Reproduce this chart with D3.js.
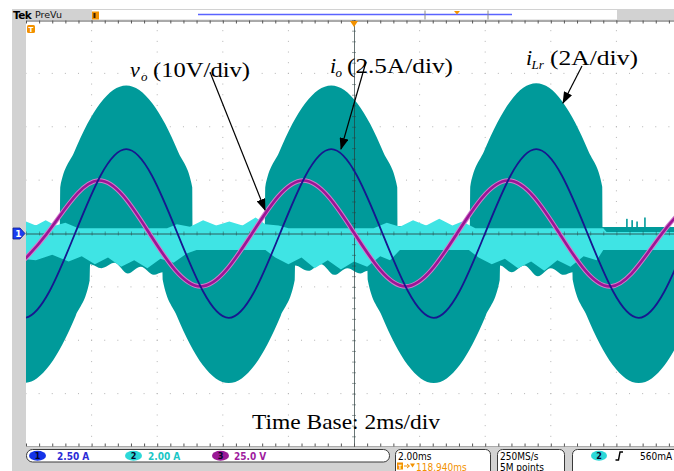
<!DOCTYPE html>
<html>
<head>
<meta charset="utf-8">
<script src="https://cdn.jsdelivr.net/npm/d3@7/dist/d3.min.js"></script>
<style>
  html, body { margin: 0; padding: 0; background: #fff; }
  svg { display: block; }
</style>
</head>
<body>
<svg id="scope" width="674" height="471"></svg>
<script>
// ---- Channel 1: output current i_o (A), 2.5 A/div ----
const ioTime = [-1.631, -0.069, 1.494, 3.056, 4.619, 6.181, 7.744, 9.306, 10.869, 12.431, 13.994, 15.556, 17.119, 18.681, 20.244];
const ioAmps = [0, -3.95, 0, 3.95, 0, -3.95, 0, 3.95, 0, -3.95, 0, 3.95, 0, -3.95, 0];

// ---- Channel 3: output voltage v_o (V), 25 V/div ----
const voTime  = [-0.922, 0.640, 2.203, 3.765, 5.328, 6.890, 8.453, 10.015, 11.578, 13.140, 14.703, 16.265, 17.828, 19.390, 20.953];
const voVolts = [-24.8, 0, 24.8, 0, -24.8, 0, 24.8, 0, -24.8, 0, 24.8, 0, -24.8, 0, 24.8];

// ---- Channel 2: resonant current i_Lr (A), 2 A/div — envelope of the switching ripple ----
const lrUpperTime = [-0.5, 0.5, 1.034,
  1.044, 1.471, 1.867, 2.263, 2.660, 3.056, 3.452, 3.849, 4.245, 4.641, 5.068,
  5.078, 6.2, 7.284,
  7.294, 7.721, 8.117, 8.513, 8.910, 9.306, 9.702, 10.099, 10.495, 10.891, 11.318,
  11.328, 12.4, 13.534,
  13.544, 13.971, 14.367, 14.763, 15.160, 15.556, 15.952, 16.349, 16.745, 17.141, 17.568,
  17.578, 20.5];
const lrUpperAmps = [0.27, 0.3, 0.27,
  1.73, 3.05, 4.10, 4.88, 5.38, 5.55, 5.38, 4.88, 4.10, 3.05, 1.73,
  0.27, 0.3, 0.27,
  1.73, 3.05, 4.10, 4.88, 5.38, 5.55, 5.38, 4.88, 4.10, 3.05, 1.73,
  0.27, 0.3, 0.27,
  1.75, 3.10, 4.15, 4.95, 5.46, 5.63, 5.46, 4.95, 4.15, 3.10, 1.75,
  0.24, 0.24];
const lrLowerTime = [-2.081, -1.654, -1.258, -0.862, -0.465, -0.069, 0.327, 0.724, 1.120, 1.516, 1.943,
  1.953, 2.3, 2.7, 3.1, 3.5, 3.9, 4.159,
  4.169, 4.596, 4.992, 5.388, 5.785, 6.181, 6.577, 6.974, 7.370, 7.766, 8.193,
  8.203, 8.6, 9.0, 9.4, 9.8, 10.2, 10.409,
  10.419, 10.846, 11.242, 11.638, 12.035, 12.431, 12.827, 13.224, 13.620, 14.016, 14.443,
  14.453, 14.8, 15.2, 15.6, 16.0, 16.4, 16.659,
  16.669, 17.096, 17.492, 17.888, 18.285, 18.681, 19.077, 19.474, 19.870, 20.266, 20.693];
const lrLowerAmps = [-1.74, -3.08, -4.13, -4.93, -5.43, -5.6, -5.43, -4.93, -4.13, -3.08, -1.74,
  -1.15, -1.3, -1.1, -1.5, -1.25, -1.55, -1.45,
  -1.74, -3.08, -4.13, -4.93, -5.43, -5.6, -5.43, -4.93, -4.13, -3.08, -1.74,
  -1.2, -1.4, -1.15, -1.55, -1.3, -1.5, -1.4,
  -1.74, -3.08, -4.13, -4.93, -5.43, -5.6, -5.43, -4.93, -4.13, -3.08, -1.74,
  -1.2, -1.45, -1.2, -1.6, -1.3, -1.55, -1.45,
  -1.74, -3.08, -4.13, -4.93, -5.43, -5.6, -5.43, -4.93, -4.13, -3.08, -1.74];

// low-intensity (light) part of the channel 2 trace around its baseline
const lrLightUpperTime = [-0.5, 0.0, 0.3, 0.6, 0.9, 1.2, 1.6, 4.3, 4.6, 5.0, 5.4, 5.8, 6.2, 6.6, 7.0, 7.3, 7.7, 8.0,
  10.6, 11.0, 11.4, 11.8, 12.2, 12.6, 13.0, 13.3, 13.7, 17.6, 17.7, 20.5];
const lrLightUpperAmps = [0.3, 0.45, 0.3, 0.5, 0.3, 0.4, 0.2, 0.2, 0.35, 0.25, 0.5, 0.3, 0.45, 0.3, 0.6, 0.35, 0.3, 0.2,
  0.2, 0.4, 0.25, 0.5, 0.3, 0.55, 0.3, 0.45, 0.2, 0.2, 0.06, 0.06];
const lrLightLowerTime = [-0.5, 0.3, 0.8, 1.3, 1.7, 2.1, 2.5, 2.9, 3.3, 3.7, 4.1, 4.5, 4.9, 5.2, 7.3, 7.6, 8.0, 8.4, 8.8,
  9.2, 9.6, 10.0, 10.4, 10.8, 11.1, 11.4, 13.5, 13.8, 14.2, 14.6, 15.0, 15.4, 15.8, 16.2, 16.6, 17.0, 17.4, 17.6, 20.5];
const lrLightLowerAmps = [-0.9, -1.0, -0.8, -1.05, -0.85, -1.15, -0.9, -1.25, -1.0, -1.3, -0.95, -1.1, -0.75, -0.62,
  -0.62, -0.9, -1.15, -0.9, -1.3, -1.0, -1.35, -1.05, -1.25, -0.85, -1.0, -0.62, -0.62, -0.9, -1.15, -0.95, -1.3,
  -1.05, -1.4, -1.0, -1.25, -0.85, -1.0, -0.62, -0.62];

// isolated glitches on channel 2 near the right edge
const glitchTime = [18.32, 18.48, 18.63, 18.87];
const glitchAmps = [0.55, 0.5, 0.45, 0.6];

// ---- readouts ----
const channelReadouts = ["2.50 A", "2.00 A", "25.0 V"];
const timeReadout = "2.00ms";
const triggerReadout = "118.940ms";
const sampleReadout = ["250MS/s", "5M points"];
const triggerLevel = "560mA";

// ---- layout ----
const svg = d3.select("#scope");
const W = 674, H = 471;
const P = { left: 26, right: 682, top: 20, bottom: 447 };

const x  = d3.scaleLinear().domain([0, 20]).range([P.left, P.right]);      // 2 ms/div, 10 div
const yD = d3.scaleLinear().domain([-4, 4]).range([P.bottom, P.top]);      // divisions
const y1 = d3.scaleLinear().domain([-10, 10]).range([P.bottom, P.top]);    // 2.5 A/div
const y2 = d3.scaleLinear().domain([-8, 8]).range([P.bottom, P.top]);      // 2 A/div
const y3 = d3.scaleLinear().domain([-100, 100]).range([P.bottom, P.top]);  // 25 V/div

const COL = {
  frame: "#d2d2d2", teal: "#009a9a", light: "#3fe4e4", ch1: "#17178f", ch3: "#9c1596",
  ch3halo: "#d07ccc", dot: "#b4b4b4", axis: "#555", orange: "#f29100"
};

svg.append("rect").attr("width", W).attr("height", H).attr("fill", "#fff");
svg.append("rect").attr("x", 12).attr("y", 9).attr("width", W - 12).attr("height", H - 9).attr("fill", COL.frame);
svg.append("rect").attr("x", P.left).attr("y", P.top).attr("width", P.right - P.left).attr("height", P.bottom - P.top).attr("fill", "#fff");

const defs = svg.append("defs");
defs.append("clipPath").attr("id", "plotClip").append("rect")
  .attr("x", P.left).attr("y", P.top).attr("width", P.right - P.left).attr("height", P.bottom - P.top);
defs.append("marker").attr("id", "arrowHead").attr("markerUnits", "userSpaceOnUse")
  .attr("markerWidth", 12).attr("markerHeight", 9).attr("refX", 11).attr("refY", 4.5).attr("orient", "auto")
  .append("path").attr("d", "M0,0 L12,4.5 L0,9 Z").attr("fill", "#000");

const plot = svg.append("g").attr("clip-path", "url(#plotClip)");

// ---- graticule: dotted division lines ----
const grid = plot.append("g");
const majorT = d3.range(2, 20, 2).filter(t => t !== 10);
const majorD = d3.range(-3, 4, 1).filter(d => d !== 0);
const minorDsteps = d3.range(-4, 4.001, 0.2);
const minorTsteps = d3.range(0, 20.001, 0.4);
majorT.forEach(t => {
  grid.selectAll(null).data(minorDsteps).join("rect")
    .attr("x", x(t) - 0.5).attr("y", d => yD(d) - 0.5).attr("width", 1).attr("height", 1).attr("fill", COL.dot);
});
majorD.forEach(dv => {
  grid.selectAll(null).data(minorTsteps).join("rect")
    .attr("x", t => x(t) - 0.5).attr("y", yD(dv) - 0.5).attr("width", 1).attr("height", 1).attr("fill", COL.dot);
});

// ---- channel 2 (i_Lr): dense envelope, then low-intensity band ----
const upperLr = d3.zip(lrUpperTime, lrUpperAmps);
const lowerLr = d3.zip(lrLowerTime, lrLowerAmps);
const areaUp = d3.area().x(d => x(d[0])).y0(y2(-0.15)).y1(d => y2(d[1])).curve(d3.curveMonotoneX);
const areaDn = d3.area().x(d => x(d[0])).y0(d => y2(d[1])).y1(y2(0.15)).curve(d3.curveMonotoneX);
plot.append("path").attr("d", areaUp(upperLr)).attr("fill", COL.teal);
plot.append("path").attr("d", areaDn(lowerLr)).attr("fill", COL.teal);

plot.selectAll(null).data(d3.zip(glitchTime, glitchAmps)).join("rect")
  .attr("x", d => x(d[0]) - 0.8).attr("width", 1.6)
  .attr("y", d => y2(d[1])).attr("height", d => y2(0.2) - y2(d[1]))
  .attr("fill", COL.teal);

const lightUp = d3.zip(lrLightUpperTime, lrLightUpperAmps);
const lightDn = d3.zip(lrLightLowerTime, lrLightLowerAmps);
const lArea = d3.area().x(d => x(d[0])).y0(y2(-0.2)).y1(d => y2(d[1])).curve(d3.curveLinear);
const lAreaDn = d3.area().x(d => x(d[0])).y0(d => y2(d[1])).y1(y2(0.0)).curve(d3.curveLinear);
plot.append("path").attr("d", lArea(lightUp)).attr("fill", COL.light);
plot.append("path").attr("d", lAreaDn(lightDn)).attr("fill", COL.light);

// ---- centre cross with minor ticks ----
const cross = plot.append("g").attr("class", "cross");
cross.append("g").attr("transform", `translate(0,${yD(0)})`)
  .call(d3.axisBottom(x).tickValues(minorTsteps).tickSize(2).tickSizeOuter(0).tickFormat(""));
cross.append("g").attr("transform", `translate(0,${yD(0)})`)
  .call(d3.axisTop(x).tickValues(minorTsteps).tickSize(2).tickSizeOuter(0).tickFormat(""));
cross.append("g").attr("transform", `translate(${x(10)},0)`)
  .call(d3.axisLeft(yD).tickValues(minorDsteps).tickSize(2).tickSizeOuter(0).tickFormat(""));
cross.append("g").attr("transform", `translate(${x(10)},0)`)
  .call(d3.axisRight(yD).tickValues(minorDsteps).tickSize(2).tickSizeOuter(0).tickFormat(""));
cross.selectAll("path, line").attr("stroke", "rgba(40,60,60,0.45)").attr("stroke-width", 1);

// ---- channel 3 (v_o) and channel 1 (i_o) traces ----
const line = (ys) => d3.line().x(d => x(d[0])).y(d => ys(d[1])).curve(d3.curveNatural);
const vo = d3.zip(voTime, voVolts);
plot.append("path").attr("d", line(y3)(vo)).attr("fill", "none").attr("stroke", COL.ch3halo).attr("stroke-width", 4.6);
plot.append("path").attr("d", line(y3)(vo)).attr("fill", "none").attr("stroke", COL.ch3).attr("stroke-width", 2.6);
const io = d3.zip(ioTime, ioAmps);
plot.append("path").attr("d", line(y1)(io)).attr("fill", "none").attr("stroke", COL.ch1).attr("stroke-width", 1.8);

// ---- frame edges with minor ticks ----
const edge = svg.append("g").attr("clip-path", "url(#plotClip)");
edge.append("g").attr("transform", `translate(0,${P.top + 0.5})`)
  .call(d3.axisBottom(x).tickValues(minorTsteps).tickSize(3).tickSizeOuter(0).tickFormat(""));
edge.append("g").attr("transform", `translate(0,${P.bottom - 0.5})`)
  .call(d3.axisTop(x).tickValues(minorTsteps).tickSize(3).tickSizeOuter(0).tickFormat(""));
edge.selectAll("path, line").attr("stroke", COL.axis).attr("stroke-width", 1);

// trigger position marker on the top edge
svg.append("path").attr("d", `M${x(10) - 4},${P.top + 1} L${x(10) + 4},${P.top + 1} L${x(10)},${P.top + 7} Z`).attr("fill", COL.orange);
// trigger time marker
svg.append("rect").attr("x", 27).attr("y", 25).attr("width", 8).attr("height", 8).attr("rx", 1.5).attr("fill", COL.orange);
svg.append("text").attr("x", 31).attr("y", 32).attr("text-anchor", "middle")
  .attr("font-family", "DejaVu Sans").attr("font-size", 7).attr("font-weight", "bold").attr("fill", "#fff").text("T");

// channel 1 ground marker
svg.append("path").attr("d", `M13,${yD(0) - 5.5} L20,${yD(0) - 5.5} L25,${yD(0)} L20,${yD(0) + 5.5} L13,${yD(0) + 5.5} Z`)
  .attr("fill", "#1b3cf2").attr("stroke", "#0d1c8a").attr("stroke-width", 0.8);
svg.append("text").attr("x", 18.5).attr("y", yD(0) + 3.5).attr("text-anchor", "middle")
  .attr("font-family", "DejaVu Sans").attr("font-size", 9).attr("font-weight", "bold").attr("fill", "#fff").text("1");

// ---- top bar ----
svg.append("rect").attr("x", 92).attr("y", 10).attr("width", 525).attr("height", 9.5).attr("fill", "#fff");
svg.append("text").attr("x", 13).attr("y", 18.5).attr("font-family", "DejaVu Sans").attr("font-weight", "bold")
  .attr("font-size", 10.5).attr("letter-spacing", -0.6).attr("fill", "#000").text("Tek");
svg.append("text").attr("x", 35).attr("y", 18).attr("font-family", "DejaVu Sans").attr("font-size", 9.5)
  .attr("fill", "#111").text("PreVu");
svg.append("rect").attr("x", 92).attr("y", 11.5).attr("width", 7).attr("height", 8).attr("fill", COL.orange);
svg.append("rect").attr("x", 93.5).attr("y", 13).attr("width", 2).attr("height", 5).attr("fill", "#3a2000");
svg.append("line").attr("x1", 198).attr("x2", 512).attr("y1", 14.5).attr("y2", 14.5).attr("stroke", "#5a63ff").attr("stroke-width", 1.4);
[425, 488].forEach(bx => svg.append("line").attr("x1", bx).attr("x2", bx).attr("y1", 10.5).attr("y2", 19.5)
  .attr("stroke", "#8a8a8a").attr("stroke-width", 1));
svg.append("path").attr("d", "M454,11 L460,11 L457,14.5 Z").attr("fill", COL.orange);

// ---- annotations ----
const serif = "'Liberation Serif', 'Times New Roman', serif";
const ann = svg.append("g").attr("font-family", serif).attr("fill", "#000");
function label(xv, base, main, sub, rest, restX, restLen) {
  ann.append("text").attr("x", xv).attr("y", base).attr("font-size", 22).attr("font-style", "italic").text(main);
  ann.append("text").attr("x", xv + (main === "v" ? 11 : 5.5)).attr("y", base + 4).attr("font-size", 13).attr("font-style", "italic").text(sub);
  ann.append("text").attr("x", restX).attr("y", base).attr("font-size", 21.5)
    .attr("textLength", restLen).attr("lengthAdjust", "spacingAndGlyphs").text(rest);
}
label(130, 77, "v", "o", "(10V/div)", 153, 97);
label(330, 73, "i", "o", "(2.5A/div)", 347, 106);
label(526, 65, "i", "Lr", "(2A/div)", 550, 88);
ann.append("text").attr("x", 252).attr("y", 429).attr("font-size", 21.5)
  .attr("textLength", 188).attr("lengthAdjust", "spacingAndGlyphs").text("Time Base: 2ms/div");

const arrows = [[210, 72, 265, 210], [366, 62, 341, 149], [582, 66, 563, 103]];
arrows.forEach(a => svg.append("line").attr("x1", a[0]).attr("y1", a[1]).attr("x2", a[2]).attr("y2", a[3])
  .attr("stroke", "#000").attr("stroke-width", 1.2).attr("marker-end", "url(#arrowHead)"));

// ---- status bar ----
const mono = "'DejaVu Sans Condensed', 'DejaVu Sans', sans-serif";
const sb = svg.append("g").attr("font-family", mono).attr("font-size", 10);
sb.append("rect").attr("x", 26.5).attr("y", 449.5).attr("width", 363).attr("height", 12.5).attr("rx", 6)
  .attr("fill", "#fff").attr("stroke", "#3a3a3a");
const chips = [
  { cx: 37.5, fill: "#1433e8", num: "1", tx: 57, col: "#2b2bd6" },
  { cx: 133.5, fill: "#2cd8d8", num: "2", tx: 148, col: "#19c6c6" },
  { cx: 220.5, fill: "#9a1896", num: "3", tx: 234, col: "#a01c9e" }
];
chips.forEach((c, i) => {
  sb.append("ellipse").attr("cx", c.cx).attr("cy", 455.8).attr("rx", 8.5).attr("ry", 5).attr("fill", c.fill);
  sb.append("text").attr("x", c.cx).attr("y", 459.3).attr("text-anchor", "middle").attr("font-size", 9)
    .attr("font-weight", "bold").attr("fill", "#06062a").text(c.num);
  sb.append("text").attr("x", c.tx).attr("y", 460).attr("font-weight", "bold").attr("fill", c.col).text(channelReadouts[i]);
});
[[395.5, 95], [497.5, 67], [572.5, 130]].forEach(b => sb.append("rect").attr("x", b[0]).attr("y", 449.5)
  .attr("width", b[1]).attr("height", 30).attr("rx", 5).attr("fill", "#fff").attr("stroke", "#3a3a3a"));
sb.append("text").attr("x", 398).attr("y", 459.5).attr("fill", "#000").text(timeReadout);
sb.append("rect").attr("x", 397).attr("y", 462.5).attr("width", 6).attr("height", 7).attr("fill", COL.orange);
sb.append("text").attr("x", 400).attr("y", 468.5).attr("text-anchor", "middle").attr("font-size", 6)
  .attr("font-weight", "bold").attr("fill", "#fff").text("T");
sb.append("path").attr("d", "M404,466 L409,466 M407,464 L409.5,466 L407,468").attr("stroke", COL.orange).attr("fill", "none");
sb.append("path").attr("d", "M410,463.5 L415,463.5 L412.5,467.5 Z").attr("fill", COL.orange);
sb.append("text").attr("x", 416).attr("y", 470.5).attr("fill", COL.orange).text(triggerReadout);
sb.append("text").attr("x", 500).attr("y", 459.5).attr("fill", "#000").text(sampleReadout[0]);
sb.append("text").attr("x", 500).attr("y", 470.5).attr("fill", "#000").text(sampleReadout[1]);
sb.append("ellipse").attr("cx", 599).attr("cy", 455.8).attr("rx", 8).attr("ry", 5).attr("fill", "#2cd8d8");
sb.append("text").attr("x", 599).attr("y", 459.3).attr("text-anchor", "middle").attr("font-size", 9)
  .attr("font-weight", "bold").attr("fill", "#06062a").text("2");
sb.append("path").attr("d", "M615.5,460 L618.5,460 L620,452 L623,452").attr("stroke", "#000").attr("stroke-width", 1.4).attr("fill", "none");
sb.append("text").attr("x", 640).attr("y", 460).attr("fill", "#000").text(triggerLevel);
</script>
</body>
</html>
